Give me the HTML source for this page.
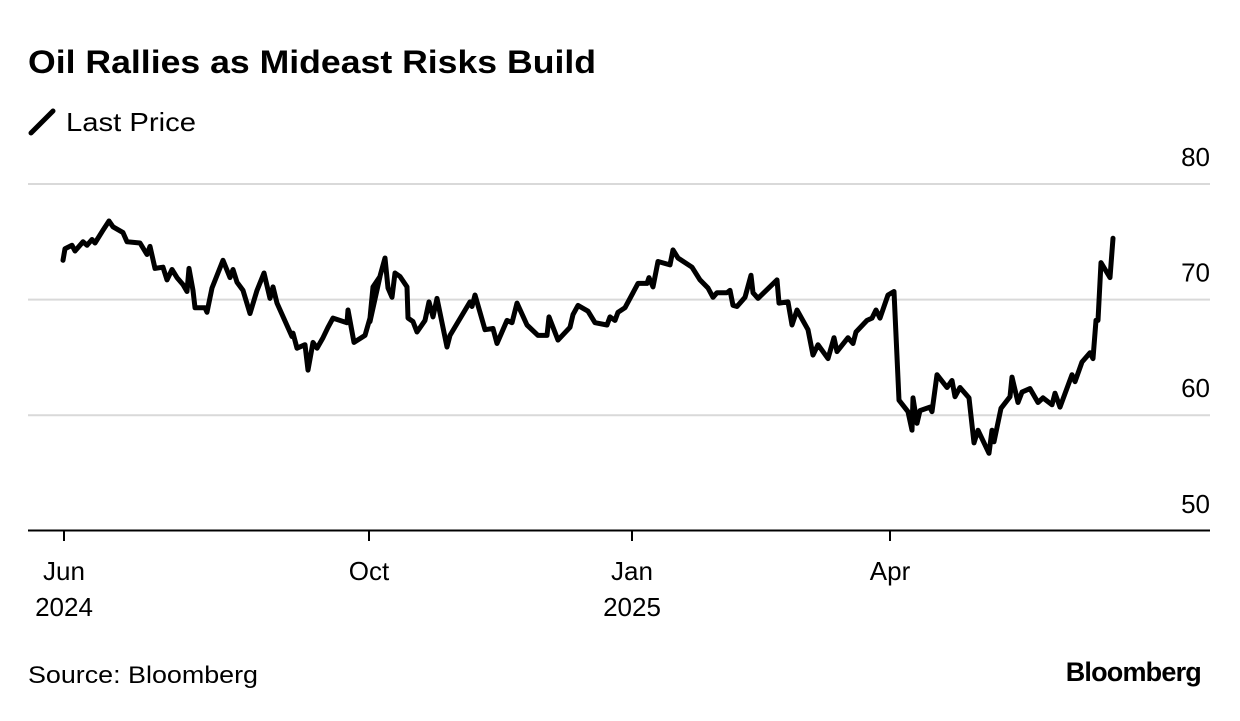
<!DOCTYPE html>
<html><head><meta charset="utf-8"><style>
body{margin:0;background:#fff;width:1240px;height:716px;overflow:hidden;font-family:"Liberation Sans",sans-serif;color:#000}
</style></head><body>
<svg width="1240" height="716" xmlns="http://www.w3.org/2000/svg" font-family="Liberation Sans, sans-serif">
<text x="28" y="73" font-size="32" font-weight="bold" textLength="568" lengthAdjust="spacingAndGlyphs">Oil Rallies as Mideast Risks Build</text>
<g>
<line x1="31" y1="133" x2="53" y2="111" stroke="#000" stroke-width="5" stroke-linecap="round"/>
<text x="66" y="131" font-size="26" textLength="130" lengthAdjust="spacingAndGlyphs">Last Price</text>
</g>
<g id="grid"></g>
<g id="yticks"></g>
<line x1="28" y1="530.5" x2="1210" y2="530.5" stroke="#000" stroke-width="2"/>
<g id="xticks"></g>
<path id="line" fill="none" stroke="#000" stroke-width="5" stroke-linejoin="round" stroke-linecap="round"/>
<text x="28" y="683" font-size="24" textLength="230" lengthAdjust="spacingAndGlyphs">Source: Bloomberg</text>
<text x="1201" y="681" font-size="27" font-weight="bold" text-anchor="end" letter-spacing="-0.8">Bloomberg</text>
</svg>
<script>
// time position (days-ish units from Jun tick) and price values
const t=[-1,1,8,11,19,23,28,31,39,45,49,59,63,76,83,86,91,99,103,108,113,119,123,125,129,131,141,143,148,159,166,169,173,179,186,193,200,206,209,213,228,229,233,241,244,249,253,259,264,269,283,284,290,301,306,309,316,
306,309,314,321,324,328,331,336,343,344,349,353,361,365,369,373,383,386,406,408,411,421,429,433,443,448,453,463,474,483,485,494,506,509,514,524,531,543,546,551,554,561,574,583,585,589,594,606,609,614,628,636,
644,649,653,663,666,669,673,681,687,689,694,713,715,724,728,733,744,749,754,764,770,773,784,789,792,803,808,812,816,824,830,835,844,848,849,853,856,866,868,873,883,888,891,896,905,910,914,925,928,930,937,946,948,954,958,966,974,979,988,991,996,1008,1011,1018,1026,1029,1032,1034,1037,1046,1049];
const v=[73.4,74.4,74.7,74.2,75.0,74.7,75.2,74.9,76.0,76.8,76.3,75.8,75.0,74.9,73.9,74.6,72.7,72.8,71.7,72.6,71.9,71.3,70.7,72.7,70.8,69.3,69.3,68.9,71.0,73.4,71.9,72.6,71.5,70.8,68.8,70.8,72.3,70.1,71.1,69.7,66.8,67.1,65.8,66.1,63.9,66.3,65.8,66.7,67.6,68.4,68.0,69.1,66.3,66.9,68.4,71.1,72.0,
68.1,71.1,71.4,73.6,71.0,70.2,72.3,72.0,71.1,68.4,68.1,67.2,68.2,69.8,68.5,70.1,65.9,66.9,69.8,69.4,70.4,67.4,67.5,66.2,68.2,68.0,69.7,67.8,66.9,66.9,68.5,66.5,67.6,68.7,69.5,69.0,68.0,67.8,68.5,68.2,68.9,69.3,71.4,71.4,71.9,71.1,73.3,73.0,74.3,73.6,72.8,71.7,
71.0,70.2,70.6,70.6,70.8,69.5,69.4,70.2,72.1,70.6,70.1,71.7,69.7,69.8,67.8,69.1,67.4,65.2,66.1,64.9,66.7,65.5,66.7,66.2,67.2,68.2,68.4,69.1,68.4,70.4,70.7,61.3,60.3,58.7,61.5,59.3,60.4,60.7,60.3,63.5,62.4,63.0,61.6,62.4,61.5,57.6,58.7,56.7,58.7,57.7,60.6,61.6,63.3,61.1,62.0,62.3,61.1,61.5,60.9,61.9,60.7,63.5,62.9,64.6,65.4,64.9,68.2,68.2,73.2,71.9,75.3];
const yTicks=[50,60,70,80];
const xTickT=[0,305,568,826];
const xTickLabels=[["Jun","2024"],["Oct",""],["Jan","2025"],["Apr",""]];
</script>
<script>
const NS='http://www.w3.org/2000/svg';
const xs=d=>64+d;
const ys=val=>184+(80-val)*11.56;
const grid=document.getElementById('grid'),yt=document.getElementById('yticks'),xt=document.getElementById('xticks');
yTicks.forEach(val=>{
 if(val>50){const l=document.createElementNS(NS,'line');
 
 
 l.setAttribute('x1',28);l.setAttribute('x2',1210);l.setAttribute('y1',ys(val));l.setAttribute('y2',ys(val));
 l.setAttribute('stroke','#d9d9d9');l.setAttribute('stroke-width','2');grid.appendChild(l);}
 const tx=document.createElementNS(NS,'text');
 
 
 tx.setAttribute('x',1210);tx.setAttribute('y',ys(val)-18);tx.setAttribute('text-anchor','end');tx.setAttribute('font-size','26');
 tx.textContent=val;yt.appendChild(tx);
});
xTickT.forEach((d,i)=>{
 const x=xs(d);
 const l=document.createElementNS(NS,'line');
 
 
 l.setAttribute('x1',x);l.setAttribute('x2',x);l.setAttribute('y1',531);l.setAttribute('y2',541);l.setAttribute('stroke','#000');l.setAttribute('stroke-width','2');xt.appendChild(l);
 xTickLabels[i].forEach((s,j)=>{ if(!s)return;
  const tx=document.createElementNS(NS,'text');
  
  
  tx.setAttribute('x',x);tx.setAttribute('y',580+j*36);tx.setAttribute('text-anchor','middle');tx.setAttribute('font-size','26');
  tx.textContent=s;xt.appendChild(tx);});
});
let d='';
v.forEach((val,i)=>{d+=(i?'L':'M')+xs(t[i]).toFixed(1)+','+ys(val).toFixed(1);});
document.getElementById('line').setAttribute('d',d);
</script>
</body></html>
